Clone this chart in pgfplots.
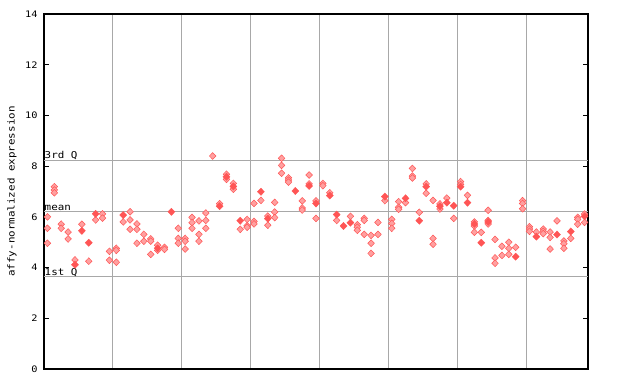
\documentclass[border=0pt]{standalone}
\usepackage{pgfplots}
\pgfplotsset{compat=1.18}
\usepackage{fontspec}
\newfontfamily\pixfont{DejaVu Sans Mono}[FakeStretch=1.15]
\definecolor{ptred}{HTML}{FF5555}
\definecolor{ptpink}{HTML}{FFA0A0}
\definecolor{gridgray}{HTML}{A8A8A8}
\begin{document}
\begin{tikzpicture}
\useasboundingbox (0bp,0bp) rectangle (640bp,384bp);
\begin{axis}[
  at={(44bp,15bp)}, anchor=south west,
  scale only axis, width=544bp, height=355bp,
  xmin=-0.5, xmax=78.5, ymin=0, ymax=14,
  axis line style={black, line width=1.2bp},
  xtick={9.5,19.5,29.5,39.5,49.5,59.5,69.5},
  xticklabels={},
  xmajorgrids, major x grid style={gridgray, line width=1bp},
  x tick style={draw=none},
  ytick={0,2,...,14},
  ytick pos=both, yticklabel pos=left,
  tick align=inside, major tick length=5bp,
  y tick style={black, line width=1bp},
  /pgf/number format/assume math mode=true,
  yticklabel style={font=\pixfont\fontsize{9}{9}\selectfont, xshift=-3bp},
  ylabel={affy-normalized expression},
  ylabel style={at={(axis description cs:-0.0588,0.5)}, anchor=center, font=\pixfont\fontsize{9.5}{10}\selectfont},
  clip=false,
]
% reference lines
\addplot[gridgray, line width=1bp, forget plot] coordinates {(-0.5,8.24) (78.5,8.24)};
\addplot[gridgray, line width=1bp, forget plot] coordinates {(-0.5,6.23) (78.5,6.23)};
\addplot[gridgray, line width=1bp, forget plot] coordinates {(-0.5,3.63) (78.5,3.63)};
\node[anchor=south west, inner sep=0.5bp, font=\pixfont\fontsize{9.5}{10}\selectfont] at (axis cs:-0.5,8.24) {3rd Q};
\node[anchor=south west, inner sep=0.5bp, font=\pixfont\fontsize{9.5}{10}\selectfont] at (axis cs:-0.5,6.23) {mean};
\node[anchor=south west, inner sep=0.5bp, font=\pixfont\fontsize{9.5}{10}\selectfont] at (axis cs:-0.5,3.63) {1st Q};
% hollow (dithered) points
\addplot[only marks, mark=diamond*, mark size=3.4bp, mark options={xscale=1.3, fill=ptpink, draw=ptred, line width=0.5bp}] table {
x y
0 6.00
0 5.55
0 4.96
1 7.19
1 7.06
1 6.95
2 5.71
2 5.55
3 5.40
3 5.13
4 4.30
5 5.71
6 4.25
7 5.88
8 6.12
8 5.95
9 4.64
9 4.29
10 4.76
10 4.68
10 4.21
11 5.80
12 6.20
12 5.88
12 5.51
13 5.72
13 5.51
13 4.96
14 5.31
14 5.04
15 5.13
15 5.04
15 4.52
16 4.88
16 4.68
17 4.80
17 4.72
19 5.55
19 5.15
19 4.96
20 5.15
20 5.04
20 4.73
21 5.98
21 5.77
21 5.55
22 5.84
22 5.31
22 5.04
23 6.15
23 5.86
23 5.55
24 8.40
25 6.52
26 7.68
26 7.48
27 7.32
27 7.09
28 5.51
29 5.90
29 5.65
29 5.59
30 6.53
30 5.82
30 5.72
31 6.65
32 6.03
32 5.67
33 6.57
33 6.19
33 5.97
34 8.31
34 8.03
34 7.72
35 7.54
35 7.45
35 7.37
37 6.63
37 6.35
37 6.27
38 7.65
38 7.30
39 6.63
39 5.94
40 7.32
40 7.23
41 6.95
42 5.86
44 6.02
45 5.69
45 5.59
45 5.47
46 5.94
46 5.86
46 5.31
47 5.27
47 4.96
47 4.56
48 5.78
48 5.31
49 6.64
50 5.90
50 5.74
50 5.55
51 6.60
51 6.38
51 6.30
52 6.56
53 7.91
53 7.61
53 7.53
54 6.18
55 7.30
55 6.93
56 6.65
56 5.15
56 4.92
57 6.51
57 6.31
58 6.74
59 5.94
60 7.39
60 7.28
61 6.85
62 5.80
62 5.64
62 5.39
63 5.39
64 6.26
64 5.86
64 5.72
65 5.11
65 4.38
65 4.17
66 4.84
66 4.48
67 5.00
67 4.76
67 4.52
68 4.80
69 6.64
69 6.53
69 6.32
70 5.61
70 5.52
70 5.43
71 5.40
72 5.52
72 5.43
72 5.34
73 5.40
73 5.19
73 4.73
74 5.84
75 5.05
75 4.94
75 4.76
76 5.15
77 5.98
77 5.90
77 5.71
78 6.11
78 5.78
};
% filled points
\addplot[only marks, mark=diamond*, mark size=3.6bp, mark options={xscale=1.3, fill=ptred, draw=ptred}] table {
x y
4 4.11
5 5.45
6 4.98
7 6.12
11 6.07
16 4.76
18 6.20
25 6.42
26 7.58
27 7.20
28 5.85
31 6.99
32 5.93
36 7.02
38 7.22
39 6.53
41 6.84
42 6.09
43 5.64
44 5.77
49 6.80
52 6.73
54 5.85
55 7.19
57 6.42
58 6.56
59 6.44
60 7.19
61 6.56
62 5.72
63 4.98
64 5.80
68 4.43
71 5.22
74 5.30
76 5.42
78 6.02
};
\end{axis}
\end{tikzpicture}
\end{document}
